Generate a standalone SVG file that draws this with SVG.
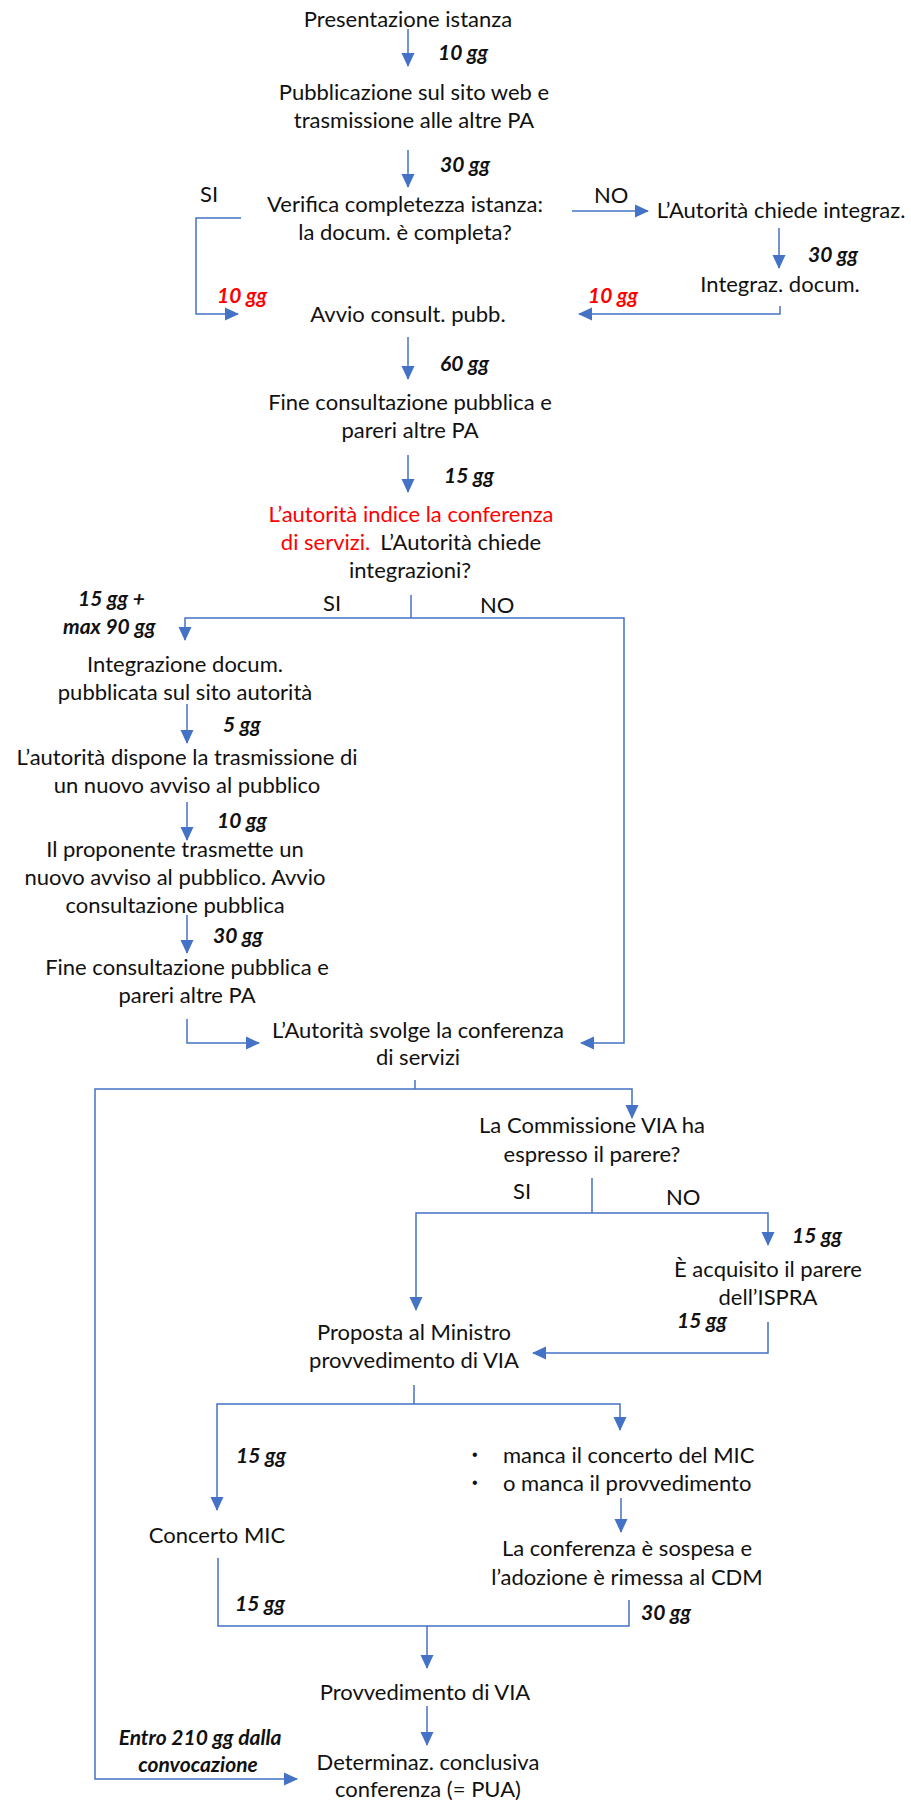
<svg xmlns="http://www.w3.org/2000/svg" width="911" height="1802" viewBox="0 0 911 1802">
<defs>
<marker id="ah" markerUnits="userSpaceOnUse" markerWidth="14" markerHeight="14" viewBox="0 0 14 14" refX="13" refY="7" orient="auto">
<path d="M0,0.5 L14,7 L0,13.5 z" fill="#4472C4"/>
</marker>
<style>
.t{font-family:Lato,"Liberation Sans",sans-serif;font-size:22px;fill:#111;text-anchor:middle}
.l{font-family:Lato,"Liberation Sans",sans-serif;font-size:22px;fill:#111}
.b{font-family:"Liberation Sans",sans-serif;font-size:16px;fill:#111}
.g{font-family:Lato,"Liberation Sans",sans-serif;font-size:21px;font-weight:bold;font-style:italic;fill:#111}
.r{fill:#FF0000}
.c{fill:none;stroke:#4472C4;stroke-width:1.5}
.a{marker-end:url(#ah)}
</style>
</defs>
<rect width="911" height="1802" fill="#fff"/>
<g id="connectors">
<path class="c a" d="M408,29 V66"/>
<path class="c a" d="M408,150 V187"/>
<path class="c a" d="M241,218 H196 V314 H238"/>
<path class="c a" d="M572,211 H648"/>
<path class="c a" d="M779,228 V268"/>
<path class="c a" d="M780,306 V314 H579"/>
<path class="c a" d="M408,337 V379"/>
<path class="c a" d="M408,455 V492"/>
<path class="c" d="M411,595 V618"/>
<path class="c a" d="M411,618 H185 V640"/>
<path class="c a" d="M411,618 H624 V1043 H581"/>
<path class="c a" d="M187,704 V743"/>
<path class="c a" d="M187,802 V840"/>
<path class="c a" d="M187,915 V953"/>
<path class="c a" d="M187,1019 V1043 H259"/>
<path class="c" d="M415,1080 V1089"/>
<path class="c a" d="M415,1089 H95 V1779 H297"/>
<path class="c a" d="M415,1089 H632 V1118"/>
<path class="c" d="M592,1178 V1213"/>
<path class="c a" d="M592,1213 H416 V1310"/>
<path class="c a" d="M592,1213 H768 V1245"/>
<path class="c a" d="M768,1322 V1353 H533"/>
<path class="c" d="M414,1385 V1404"/>
<path class="c a" d="M414,1404 H217 V1510"/>
<path class="c a" d="M414,1404 H620 V1430"/>
<path class="c a" d="M621,1498 V1532"/>
<path class="c" d="M218,1558 V1626 H629 V1600"/>
<path class="c a" d="M427,1626 V1668"/>
<path class="c a" d="M427,1706 V1745"/>
</g>
<g id="labels">
<text class="g" x="438" y="60">10 gg</text>
<text class="g" x="440" y="172">30 gg</text>
<text class="l" x="200" y="202">SI</text>
<text class="l" x="594" y="203">NO</text>
<text class="g r" x="217" y="303">10 gg</text>
<text class="g r" x="588" y="303">10 gg</text>
<text class="g" x="808" y="262">30 gg</text>
<text class="g" x="440" y="371">60 gg</text>
<text class="g" x="444" y="483">15 gg</text>
<text class="l" x="323" y="611">SI</text>
<text class="l" x="480" y="613">NO</text>
<text class="g" x="78" y="606">15 gg +</text>
<text class="g" x="63" y="634">max 90 gg</text>
<text class="g" x="223" y="732">5 gg</text>
<text class="g" x="217" y="828">10 gg</text>
<text class="g" x="213" y="943">30 gg</text>
<text class="l" x="513" y="1199">SI</text>
<text class="l" x="666" y="1205">NO</text>
<text class="g" x="792" y="1243">15 gg</text>
<text class="g" x="677" y="1328">15 gg</text>
<text class="g" x="236" y="1463">15 gg</text>
<text class="g" x="235" y="1611">15 gg</text>
<text class="g" x="641" y="1620">30 gg</text>
<text class="g" x="200" y="1745" text-anchor="middle">Entro 210 gg dalla</text>
<text class="g" x="198" y="1772" text-anchor="middle">convocazione</text>
</g>
<g id="n1"><text class="t" x="408" y="27">Presentazione istanza</text></g>
<g id="n2"><text class="t" x="414" y="100">Pubblicazione sul sito web e</text><text class="t" x="414" y="128">trasmissione alle altre PA</text></g>
<g id="n3"><text class="t" x="405" y="212">Verifica completezza istanza:</text><text class="t" x="405" y="240">la docum. è completa?</text></g>
<g id="n4"><text class="t" x="781" y="218">L’Autorità chiede integraz.</text></g>
<g id="n5"><text class="t" x="780" y="292">Integraz. docum.</text></g>
<g id="n6"><text class="t" x="408" y="322">Avvio consult. pubb.</text></g>
<g id="n7"><text class="t" x="410" y="410">Fine consultazione pubblica e</text><text class="t" x="410" y="438">pareri altre PA</text></g>
<g id="n8"><text class="t r" x="411" y="522">L’autorità indice la conferenza</text><text class="t" x="411" y="550"><tspan class="r">di servizi.</tspan><tspan dx="10">L’Autorità chiede</tspan></text><text class="t" x="410" y="578">integrazioni?</text></g>
<g id="n9"><text class="t" x="185" y="672">Integrazione docum.</text><text class="t" x="185" y="700">pubblicata sul sito autorità</text></g>
<g id="n10"><text class="t" x="187" y="765">L’autorità dispone la trasmissione di</text><text class="t" x="187" y="793">un nuovo avviso al pubblico</text></g>
<g id="n11"><text class="t" x="175" y="857">Il proponente trasmette un</text><text class="t" x="175" y="885">nuovo avviso al pubblico. Avvio</text><text class="t" x="175" y="913">consultazione pubblica</text></g>
<g id="n12"><text class="t" x="187" y="975">Fine consultazione pubblica e</text><text class="t" x="187" y="1003">pareri altre PA</text></g>
<g id="n13"><text class="t" x="418" y="1038">L’Autorità svolge la conferenza</text><text class="t" x="418" y="1065">di servizi</text></g>
<g id="n14"><text class="t" x="592" y="1133">La Commissione VIA ha</text><text class="t" x="592" y="1162">espresso il parere?</text></g>
<g id="n15"><text class="t" x="768" y="1277">È acquisito il parere</text><text class="t" x="768" y="1305">dell’ISPRA</text></g>
<g id="n16"><text class="t" x="414" y="1340">Proposta al Ministro</text><text class="t" x="414" y="1368">provvedimento di VIA</text></g>
<g id="n17"><text class="b" x="472" y="1460">•</text><text class="l" x="503" y="1463">manca il concerto del MIC</text><text class="b" x="472" y="1488">•</text><text class="l" x="503" y="1491">o manca il provvedimento</text></g>
<g id="n18"><text class="t" x="217" y="1543">Concerto MIC</text></g>
<g id="n19"><text class="t" x="627" y="1556">La conferenza è sospesa e</text><text class="t" x="627" y="1585">l’adozione è rimessa al CDM</text></g>
<g id="n20"><text class="t" x="425" y="1700">Provvedimento di VIA</text></g>
<g id="n21"><text class="t" x="428" y="1770">Determinaz. conclusiva</text><text class="t" x="428" y="1797">conferenza (= PUA)</text></g>
</svg>
